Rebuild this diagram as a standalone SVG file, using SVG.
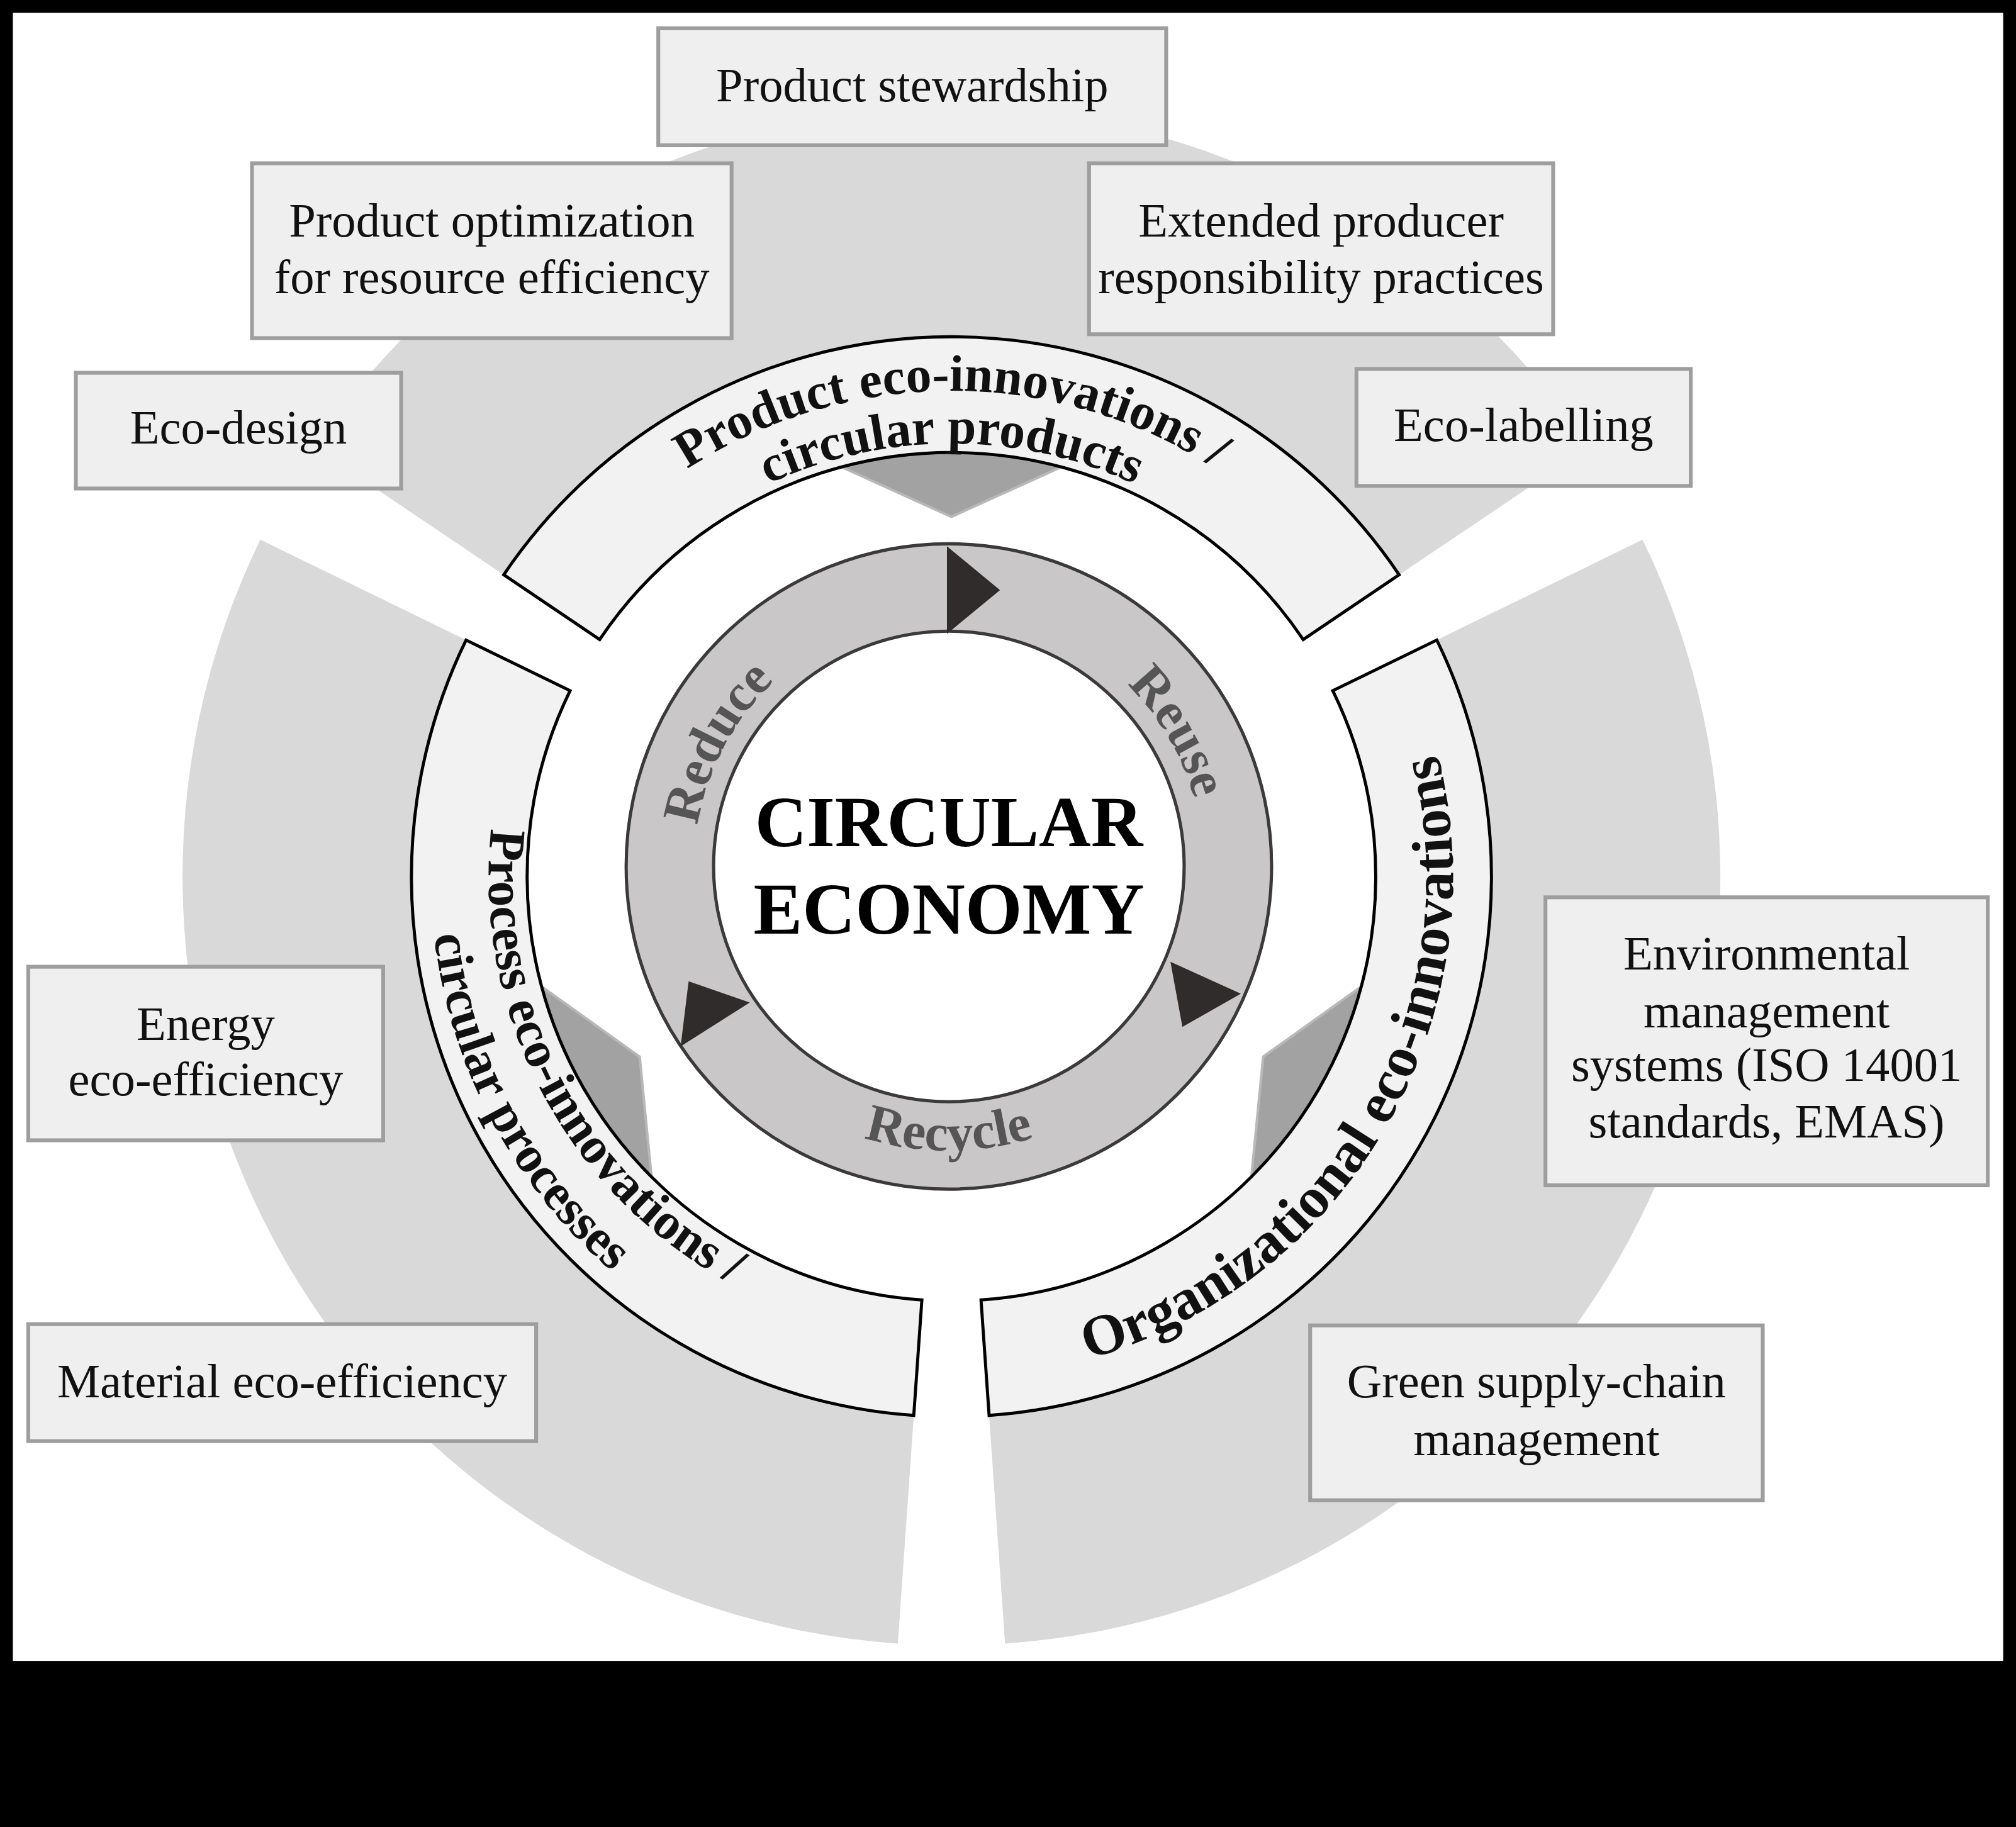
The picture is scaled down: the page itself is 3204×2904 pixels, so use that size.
<svg xmlns="http://www.w3.org/2000/svg" width="3204" height="2904" viewBox="0 0 3204 2904">
<defs>
<style>
.box{fill:#efefef;stroke:#9e9e9e;stroke-width:3}
.bt{font-family:"Liberation Serif",serif;font-size:37.5px;fill:#111;text-anchor:middle}
.bg{fill:#d9d9d9}
.band{fill:#f2f2f2;stroke:#000;stroke-width:2.4}
.bandt{font-family:"Liberation Serif",serif;font-weight:bold;font-size:40px;fill:#111}
.chev{fill:#a2a2a2;stroke:#b8b8b8;stroke-width:2}
.ringt{font-family:"Liberation Serif",serif;font-weight:bold;font-size:41px;fill:#555}
.tri{fill:#302c2c;stroke:#302c2c;stroke-width:1}
</style>
<path id="pTop1" d="M384.8,552.7 A378,378 0 0 1 1095.2,552.7"/>
<path id="pTop2" d="M423.3,566.8 A337,337 0 0 1 1056.7,566.8"/>
<path id="pLeft1" d="M464.2,450.6 A360,360 0 0 0 802.5,1036.5"/>
<path id="pLeft2" d="M429.8,421.7 A405,405 0 0 0 810.3,1080.8"/>
<path id="pRight" d="M672.3,1066.1 A390,390 0 0 0 1038.8,431.3"/>
<path id="pReduce" d="M551.9,741.7 A198,198 0 0 1 690.1,481.9"/>
<path id="pReuse" d="M785.9,481.9 A198,198 0 0 1 929.3,725.2"/>
<path id="pRecycle" d="M581.7,830.3 A221,221 0 0 0 894.3,830.3"/>
</defs>
<rect x="0" y="0" width="3204" height="2904" fill="#000"/>
<g transform="scale(2.0434)">
<rect x="10" y="10" width="1548" height="1282" fill="#fff"/>
<g id="background">
<path class="bg" d="M740,682 L1235.8,347.6 A598,598 0 0 0 244.2,347.6 Z"/>
<path class="bg" d="M740,682 L202.5,419.8 A598,598 0 0 0 698.3,1278.5 Z"/>
<path class="bg" d="M740,682 L781.7,1278.5 A598,598 0 0 0 1277.5,419.8 Z"/>
<circle cx="740" cy="682" r="330" fill="#fff"/>
</g>
<g id="chevrons">
<polygon class="chev" points="649.4,343.9 830.6,343.9 825.4,363.3 740,402 654.6,363.3"/>
<polygon class="chev" points="397.1,773.9 421.3,767.4 497.5,822 506.7,915.3 489,933"/>
<polygon class="chev" points="1082.9,773.9 1058.7,767.4 982.5,822 973.3,915.3 991,933"/>
</g>
<g id="band-product">
<path class="band" d="M1088.2,447.1 A420,420 0 0 0 391.8,447.1 L466.4,497.5 A330,330 0 0 1 1013.6,497.5 Z"/>
<text class="bandt"><textPath href="#pTop1" startOffset="50%" text-anchor="middle">Product eco-innovations /</textPath></text>
<text class="bandt"><textPath href="#pTop2" startOffset="50%" text-anchor="middle">circular products</textPath></text>
</g>
<g id="band-process">
<path class="band" d="M362.5,497.9 A420,420 0 0 0 710.7,1101 L717,1011.2 A330,330 0 0 1 443.4,537.3 Z"/>
<text class="bandt"><textPath href="#pLeft1" startOffset="48.5%" text-anchor="middle">Process eco-innovations /</textPath></text>
<text class="bandt"><textPath href="#pLeft2" startOffset="48.5%" text-anchor="middle">circular processes</textPath></text>
</g>
<g id="band-organizational">
<path class="band" d="M769.3,1101 A420,420 0 0 0 1117.5,497.9 L1036.6,537.3 A330,330 0 0 1 763,1011.2 Z"/>
<text class="bandt" style="font-size:45px"><textPath href="#pRight" startOffset="50%" text-anchor="middle">Organizational eco-innovations</textPath></text>
</g>
<g id="cycle">
<circle cx="738" cy="674" r="251" fill="#cac7c8" stroke="#3a3a3a" stroke-width="2.5"/>
<circle cx="738" cy="674" r="183" fill="#fff" stroke="#3a3a3a" stroke-width="2.5"/>
<polygon class="tri" points="737,426 737,492 777,459"/>
<polygon class="tri" points="536,764 530,813 582,780"/>
<polygon class="tri" points="911,749 920,798 964,773"/>
<text class="ringt"><textPath href="#pReduce" startOffset="50%" text-anchor="middle">Reduce</textPath></text>
<text class="ringt"><textPath href="#pReuse" startOffset="50%" text-anchor="middle">Reuse</textPath></text>
<text class="ringt"><textPath href="#pRecycle" startOffset="50%" text-anchor="middle">Recycle</textPath></text>
</g>
<g id="center">
<text x="738" y="658" style="font-family:'Liberation Serif',serif;font-weight:bold;font-size:56px;fill:#000;text-anchor:middle">CIRCULAR</text>
<text x="738" y="726" style="font-family:'Liberation Serif',serif;font-weight:bold;font-size:57px;fill:#000;text-anchor:middle">ECONOMY</text>
</g>
<g id="n-stewardship"><rect class="box" x="512" y="22" width="395" height="91"/><text class="bt" x="709.5" y="79">Product stewardship</text></g>
<g id="n-optimization"><rect class="box" x="196" y="127" width="373" height="136"/><text class="bt" x="382.5" y="184">Product optimization</text><text class="bt" x="382.5" y="228">for resource efficiency</text></g>
<g id="n-epr"><rect class="box" x="847" y="127" width="361" height="133"/><text class="bt" x="1027.5" y="184">Extended producer</text><text class="bt" x="1027.5" y="228">responsibility practices</text></g>
<g id="n-ecodesign"><rect class="box" x="59" y="290" width="253" height="90"/><text class="bt" x="185.5" y="345">Eco-design</text></g>
<g id="n-ecolabelling"><rect class="box" x="1055" y="287" width="260" height="91"/><text class="bt" x="1185" y="343">Eco-labelling</text></g>
<g id="n-ems"><rect class="box" x="1202" y="698" width="344" height="224"/><text class="bt" x="1374" y="754">Environmental</text><text class="bt" x="1374" y="799">management</text><text class="bt" x="1374" y="841">systems (ISO 14001</text><text class="bt" x="1374" y="885">standards, EMAS)</text></g>
<g id="n-energy"><rect class="box" x="22" y="752" width="276" height="135"/><text class="bt" x="160" y="809">Energy</text><text class="bt" x="160" y="852">eco-efficiency</text></g>
<g id="n-material"><rect class="box" x="22" y="1030" width="395" height="91"/><text class="bt" x="219.5" y="1087">Material eco-efficiency</text></g>
<g id="n-green"><rect class="box" x="1019" y="1031" width="352" height="136"/><text class="bt" x="1195" y="1087">Green supply-chain</text><text class="bt" x="1195" y="1132">management</text></g>
<g id="connectors"></g>
</g>
</svg>
